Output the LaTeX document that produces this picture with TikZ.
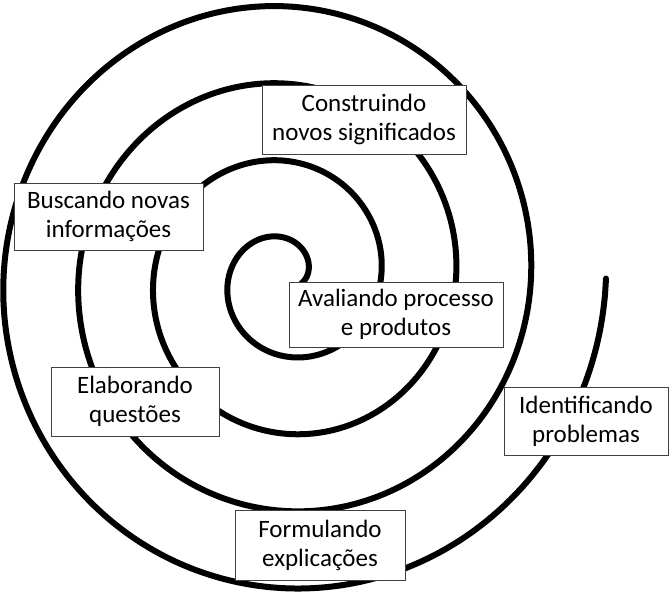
\documentclass[tikz,border=0pt]{standalone}
\usepackage{fontspec}
\setmainfont{Carlito}
\begin{document}
\begin{tikzpicture}[x=1pt,y=-1pt,
  lbl/.style={draw=black!75,line width=1pt,fill=white,inner sep=0pt,align=center,
    font=\fontsize{25}{29}\selectfont},
  spiral/.style={line width=6pt,line cap=round}]
\useasboundingbox (0,0) rectangle (669,592);
\draw[spiral] plot[domain=-0.3:25.1327,samples=500,smooth]
  ({286+(20+75*\x/(2*pi))*cos(\x r)},{278-1.03*(20+75*\x/(2*pi))*sin(\x r)});
\node[lbl,minimum width=204pt,minimum height=69pt] (cons) at (364,119.5) {Construindo\\novos significados};
\node[lbl,minimum width=189pt,minimum height=67pt] (busc) at (108.5,216.5) {Buscando novas\\informações};
\node[lbl,minimum width=214pt,minimum height=65pt] (aval) at (396,314.5) {Avaliando processo\\e produtos};
\node[lbl,minimum width=168pt,minimum height=69pt] (elab) at (135,401.5) {Elaborando\\questões};
\node[lbl,minimum width=164pt,minimum height=68pt] (iden) at (586,421) {Identificando\\problemas};
\node[lbl,minimum width=170pt,minimum height=70pt] (form) at (320,545) {Formulando\\explicações};
\end{tikzpicture}
\end{document}
